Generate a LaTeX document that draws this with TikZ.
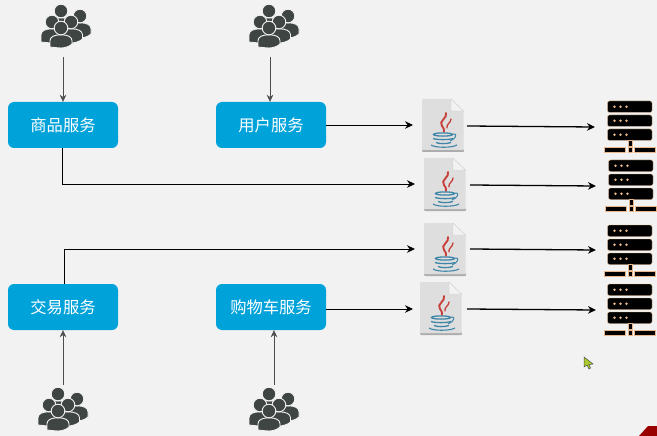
\documentclass[tikz,border=0pt]{standalone}
\usepackage{fontspec}
\setmainfont{Noto Sans CJK SC}
\usetikzlibrary{arrows.meta}
\definecolor{bgc}{HTML}{F2F2F2}
\definecolor{svc}{HTML}{00A2DA}
\definecolor{ppl}{HTML}{3F4543}
\definecolor{peach}{HTML}{E8B88C}
\definecolor{filec}{HTML}{DEDEDE}
\definecolor{foldc}{HTML}{F2F2F2}
\definecolor{jred}{HTML}{C8403A}
\definecolor{jblue}{HTML}{3E86A8}
\newcommand\onep[5]{% cx, head y, head r, half width, bottom
  \fill[ppl,draw=bgc,line width=.9pt] (#1-#4,#5) -- (#1-#4,#2+#3+6)
    .. controls (#1-#4,#2+#3+2) and (#1-#3,#2+#3) .. (#1,#2+#3)
    .. controls (#1+#3,#2+#3) and (#1+#4,#2+#3+2) .. (#1+#4,#2+#3+6)
    -- (#1+#4,#5-3) .. controls (#1+#4-3,#5) and (#1+3,#5+1) .. (#1,#5+1)
    .. controls (#1-3,#5+1) and (#1-#4,#5) .. (#1-#4,#5) -- cycle;
  \fill[ppl,draw=bgc,line width=.9pt] (#1,#2) circle[radius=#3];
}
\tikzset{
  svcbox/.style={fill=svc,rounded corners=6pt,minimum width=110pt,minimum height=46pt,inner sep=0pt,text=white,font=\fontsize{16.3}{18}\selectfont},
  thinlink/.style={-{Stealth[length=7pt,width=6.5pt]},line width=.6pt,draw=black!70},
  link/.style={-{Stealth[length=8pt,width=7.5pt]},line width=.9pt,draw=black},
  slopelink/.style={-{Stealth[length=8pt,width=7.5pt]},line width=1.3pt,draw=black},
  people/.pic={
    \onep{0}{-17}{6.8}{9}{-2}
    \onep{19}{-12}{6.8}{11}{9}
    \onep{-9}{-6}{6.8}{11}{14}
    \onep{10}{-6}{6.8}{11.5}{14}
    \onep{0}{0}{6.8}{11}{19}
  },
  javadoc/.pic={
    \fill[black!32,rounded corners=1pt] (0,50) -- (0,53) -- (42,53) -- (42,50) -- cycle;
    \fill[filec] (1,0) -- (29,0) -- (41.5,12) -- (41.5,51) -- (0,51) -- (0,1) -- cycle;
    \fill[foldc,draw=black!20,line width=.4pt] (29,0) -- (29,12) -- (41.5,12) -- cycle;
    \draw[jred,line width=1.9pt,line cap=round] (24,14) .. controls (26,19) and (16,22) .. (20,27) .. controls (21,29) and (23,30) .. (22,33);
    \draw[jred,line width=1.3pt,line cap=round] (29,20) .. controls (29,24) and (24,25) .. (25,29);
    \draw[jblue,line width=1.3pt] (21,35.5) ellipse[x radius=9.5,y radius=1.6];
    \draw[jblue,line width=1.3pt] (11,39.5) .. controls (15,41) and (27,41) .. (31,39.5);
    \draw[jblue,line width=1.3pt] (14,43.5) .. controls (17,45) and (25,45) .. (29,43.5);
    \draw[jblue,line width=1.1pt] (9,46) .. controls (13,49) and (30,49) .. (35,46);
    \draw[jblue,line width=1pt] (31,35) .. controls (36,34) and (34,40) .. (28,42);
  },
  rack/.pic={
    \foreach \yy in {1,15,29}{
      \fill[black,draw=peach,line width=.35pt,rounded corners=2pt] (3.5,\yy) rectangle (48,\yy+11.5);
      \foreach \xx in {10.5,16.5,22.5} \fill[peach] (\xx,\yy+5.7) circle[radius=1.35pt];
    }
    \fill[black,draw=peach,line width=.35pt] (24,40.5) rectangle (28.5,46);
    \fill[black,draw=peach,line width=.35pt] (0,47.5) rectangle (21,52.5);
    \fill[black,draw=peach,line width=.35pt] (24,47.5) rectangle (28.5,52.5);
    \fill[black,draw=peach,line width=.35pt] (30,47.5) rectangle (51,52.5);
  }
}
\begin{document}
\begin{tikzpicture}[x=1pt,y=-1pt]
\useasboundingbox (0,0) rectangle (657,436);
\fill[bgc] (0,0) rectangle (657,436);
% people
\pic at (61,28) {people};
\pic at (269,28) {people};
\pic at (58,411) {people};
\pic at (269,411) {people};
% services
\node[svcbox] (goods) at (63,125) {商品服务};
\node[svcbox] (user) at (271,125) {用户服务};
\node[svcbox] (trade) at (63,307) {交易服务};
\node[svcbox] (cart) at (271,307) {购物车服务};
% java documents
\pic at (422,99) {javadoc};
\pic at (424,158) {javadoc};
\pic at (424,223) {javadoc};
\pic at (420,282) {javadoc};
% racks
\pic at (604,100) {rack};
\pic at (605,159) {rack};
\pic at (604,224) {rack};
\pic at (604,283) {rack};
% connector ends
\coordinate (pa) at (63,57);
\coordinate (pb) at (270,57);
\coordinate (pc) at (63,385);
\coordinate (pd) at (274,385);
\coordinate (ja) at (413,125);
\coordinate (jb) at (415,184);
\coordinate (jc) at (415,249);
\coordinate (jd) at (413,309);
\coordinate (oa) at (467,126);
\coordinate (ob) at (470,185);
\coordinate (oc) at (470,249);
\coordinate (od) at (467,309);
\coordinate (ra) at (595,127);
\coordinate (rb) at (596,186);
\coordinate (rc) at (596,250);
\coordinate (rd) at (596,310);
\draw[thinlink] (pa) -- (pa |- goods.north);
\draw[thinlink] (pb) -- (pb |- user.north);
\draw[thinlink] (pc) -- (pc |- trade.south);
\draw[thinlink] (pd) -- (pd |- cart.south);
\draw[link] (user.east |- ja) -- (ja);
\draw[link] ([xshift=-1pt]goods.south) |- (jb);
\draw[link] ([xshift=1pt]trade.north) |- (jc);
\draw[link] (cart.east |- jd) -- (jd);
\draw[slopelink] (oa) -- (ra);
\draw[slopelink] (ob) -- (rb);
\draw[slopelink] (oc) -- (rc);
\draw[slopelink] (od) -- (rd);
% cursor
\fill[yellow!70!green!90!black,draw=black!70,line width=.5pt] (584,357) -- (584,367) -- (587,365) -- (589,369) -- (590.5,368) -- (589,364.5) -- (593,364) -- cycle;
% corner
\fill[red!60!black] (639,436) -- (648,426) -- (657,426) -- (657,436) -- cycle;
\end{tikzpicture}
\end{document}
